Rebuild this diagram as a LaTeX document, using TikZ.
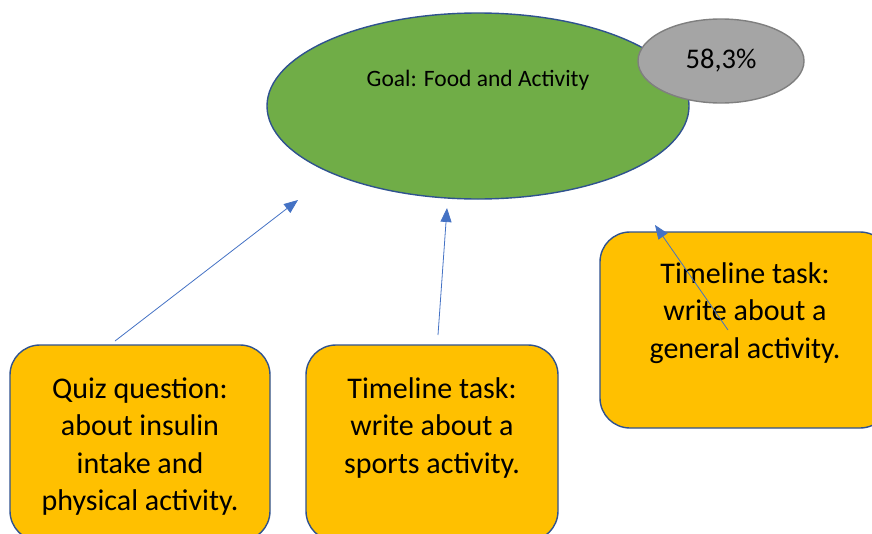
\documentclass[tikz,border=0pt]{standalone}
\usepackage{fontspec}
\setmainfont{Carlito}
\usetikzlibrary{positioning, arrows.meta, shapes.geometric}
\definecolor{goalgreen}{HTML}{70AD47}
\definecolor{scoregray}{HTML}{A5A5A5}
\definecolor{scoreedge}{HTML}{7F7F7F}
\definecolor{taskamber}{HTML}{FFC000}
\definecolor{edgeblue}{HTML}{2F528F}
\definecolor{linkblue}{HTML}{4472C4}
\tikzset{
  goal/.style={ellipse, draw=edgeblue, line width=1.4pt, fill=goalgreen, inner sep=0pt, minimum width=422pt, minimum height=186pt},
  goaltext/.style={font=\fontsize{23.5}{28}\selectfont, inner sep=0pt},
  score/.style={ellipse, draw=scoreedge, line width=1.4pt, fill=scoregray, inner sep=0pt, minimum width=166pt, minimum height=84pt, font=\fontsize{28.5}{34}\selectfont},
  task/.style={draw=edgeblue, line width=1.4pt, rounded corners=30pt, fill=taskamber, minimum height=196pt},
  tasktext/.style={align=center, font=\fontsize{30}{37.5}\selectfont, inner sep=0pt},
  link/.style={-{Triangle[length=14pt, width=11pt]}, line width=0.8pt, draw=linkblue},
}
\begin{document}
\begin{tikzpicture}[x=1pt, y=-1pt]
  \useasboundingbox (0,0) rectangle (872,533);
  \clip (0,0) rectangle (872,533);
  % Goal
  \node[goal] (goal) at (478,106) {};
  \node[goaltext, above=26pt of goal.center, anchor=center] (goallbl) {Goal: Food and Activity};
  \node[score] (score) at (721,61) {58,3\%};

  % Tasks
  \node[task, minimum width=260pt] (quiz) at (140,443) {};
  \node[tasktext, below=33pt of quiz.north] (quiztxt) {Quiz question:\\about insulin\\intake and\\physical activity.};
  \node[task, minimum width=252pt] (sport) at (432,443) {};
  \node[tasktext, below=33pt of sport.north] (sporttxt) {Timeline task:\\write about a\\sports activity.};
  \node[task, minimum width=290pt] (general) at (745,330) {};
  \node[tasktext, below=31pt of general.north] (generaltxt) {Timeline task:\\write about a\\general activity.};

  % Links
  \coordinate (quizfoot) at (115,341);
  \coordinate (quizhead) at (298,200);
  \coordinate (sportfoot) at (438,335);
  \coordinate (sporthead) at (447,208);
  \coordinate (generalfoot) at (728,330);
  \coordinate (generalhead) at (655,225);
  \draw[link] (quizfoot) -- (quizhead);
  \draw[link] (sportfoot) -- (sporthead);
  \draw[link] (generalfoot) -- (generalhead);
\end{tikzpicture}
\end{document}
